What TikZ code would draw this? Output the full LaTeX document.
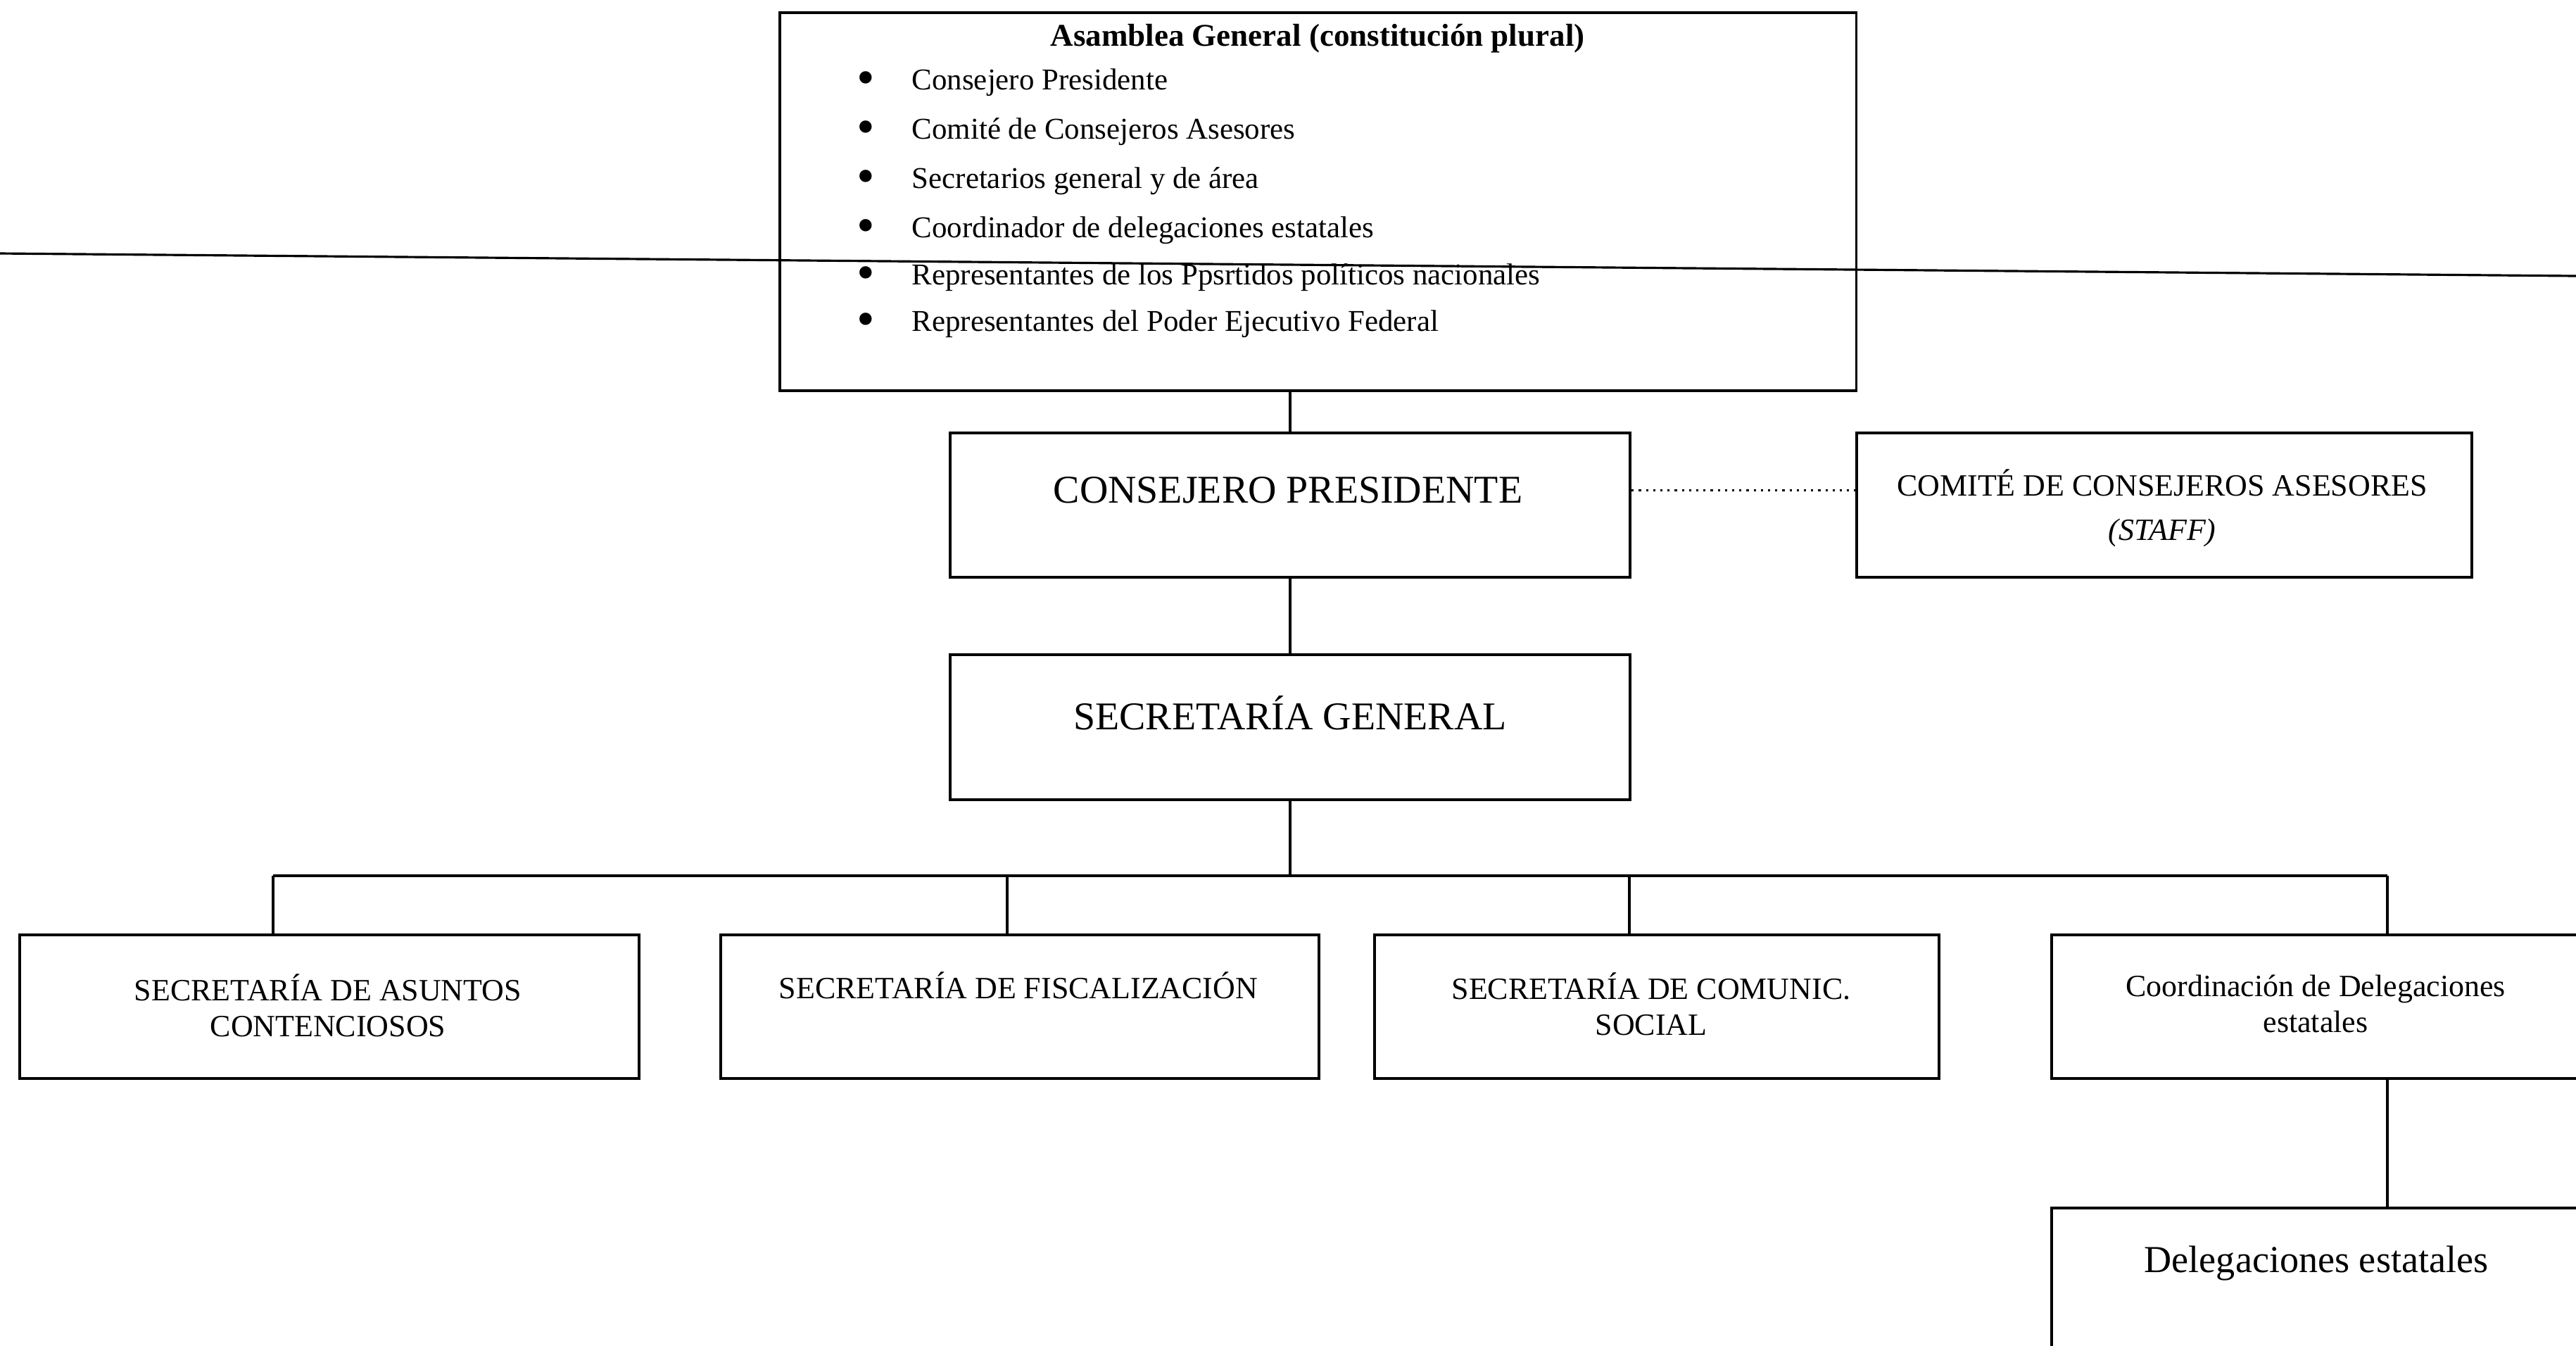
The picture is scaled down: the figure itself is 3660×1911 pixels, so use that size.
\documentclass[tikz,border=0pt]{standalone}
\usepackage{fontspec}
\setmainfont{Liberation Serif}
\begin{document}
\begin{tikzpicture}[x=0.01cm,y=-0.01cm,
  box/.style={draw, line width=1.1pt, rectangle, inner sep=0pt},
  conn/.style={line width=0.9pt},
  big/.style={font=\fontsize{15.9}{19}\selectfont, inner sep=0pt},
  deltext/.style={font=\fontsize{15.4}{18}\selectfont, inner sep=0pt},
  small/.style={font=\fontsize{12.5}{14.6}\selectfont, align=center, inner sep=0pt},
  item/.style={font=\fontsize{12.2}{14}\selectfont, anchor=west, inner sep=0pt},
  titletext/.style={font=\fontsize{12.8}{15}\selectfont\bfseries, inner sep=0pt}
]
\clip (0,0) rectangle (3660,1911);
\fill[white] (0,0) rectangle (3660,1911);
\newcommand{\mybul}{\makebox[0.78cm][l]{\raisebox{-0.17em}{\scalebox{1.7}{\textbullet}}}}

% boxes
\node[box, minimum width=15.29cm, minimum height=5.37cm] (asamblea) at (1872.5,286.5) {};
\node[box, minimum width=9.66cm, minimum height=2.05cm] (consejero) at (1833,717.5) {};
\node[box, minimum width=8.74cm, minimum height=2.05cm] (comite) at (3075,717.5) {};
\node[box, minimum width=9.66cm, minimum height=2.06cm] (secgen) at (1833,1033) {};
\node[box, minimum width=8.80cm, minimum height=2.04cm] (b1) at (468,1430) {};
\node[box, minimum width=8.50cm, minimum height=2.04cm] (b2) at (1449,1430) {};
\node[box, minimum width=8.02cm, minimum height=2.04cm] (b3) at (2354,1430) {};
\node[box, minimum width=7.65cm, minimum height=2.04cm] (b4) at (3297.5,1430) {};
\node[box, minimum width=7.65cm, minimum height=2.44cm] (deleg) at (3297.5,1838) {};

% long horizontal line
\coordinate (Lw) at (0,360);
\coordinate (Le) at (3660,392);
\draw[line width=0.9pt] (Lw) -- (Le);

% texts in Asamblea
\node[titletext] (t0) at (1872,55) {Asamblea General (constitución plural)};
\node[item] (i1) at (1217,117) {\mybul Consejero Presidente};
\node[item] (i2) at (1217,187) {\mybul Comité de Consejeros Asesores};
\node[item] (i3) at (1217,257) {\mybul Secretarios general y de área};
\node[item] (i4) at (1217,327) {\mybul Coordinador de delegaciones estatales};
\node[item] (i5) at (1217,394) {\mybul Representantes de los Ppsrtidos políticos nacionales};
\node[item] (i6) at (1217,460) {\mybul Representantes del Poder Ejecutivo Federal};

% texts
\node[big] (tcp) at (1830,696) {CONSEJERO PRESIDENTE};
\node[small] (tcom) at (3072,722) {COMITÉ DE CONSEJEROS ASESORES\\[0.12cm]\textit{(STAFF)}};
\node[big] (tsg) at (1833,1013) {SECRETARÍA GENERAL};
\node[small] (tb1) at (466,1428) {SECRETARÍA DE ASUNTOS\\CONTENCIOSOS};
\node[small] (tb2) at (1447,1400) {SECRETARÍA DE FISCALIZACIÓN};
\node[small] (tb3) at (2346,1426) {SECRETARÍA DE COMUNIC.\\SOCIAL};
\node[small] (tb4) at (3290,1426) {Coordinación de Delegaciones\\estatales};
\node[deltext] (tdel) at (3291,1795) {Delegaciones estatales};

% connectors
\draw[conn] (consejero.north) -- (consejero.north |- asamblea.south);
\draw[conn] (consejero.south) -- (secgen.north);
\draw[dotted, line width=0.9pt] ([yshift=0.21cm]consejero.east) -- ([yshift=0.21cm]comite.west);
\coordinate (bus) at (1833,1244);
\coordinate (d1) at (388,1244);
\coordinate (d2) at (1431,1244);
\coordinate (d3) at (2315,1244);
\coordinate (d4) at (3392,1244);
\draw[conn] (secgen.south) -- (bus);
\draw[conn] (d1) -- (d4);
\draw[conn] (d1) -- (d1 |- b1.north);
\draw[conn] (d2) -- (d2 |- b2.north);
\draw[conn] (d3) -- (d3 |- b3.north);
\draw[conn] (d4) -- (d4 |- b4.north);
\draw[conn] (d4 |- b4.south) -- (d4 |- deleg.north);
\end{tikzpicture}
\end{document}
